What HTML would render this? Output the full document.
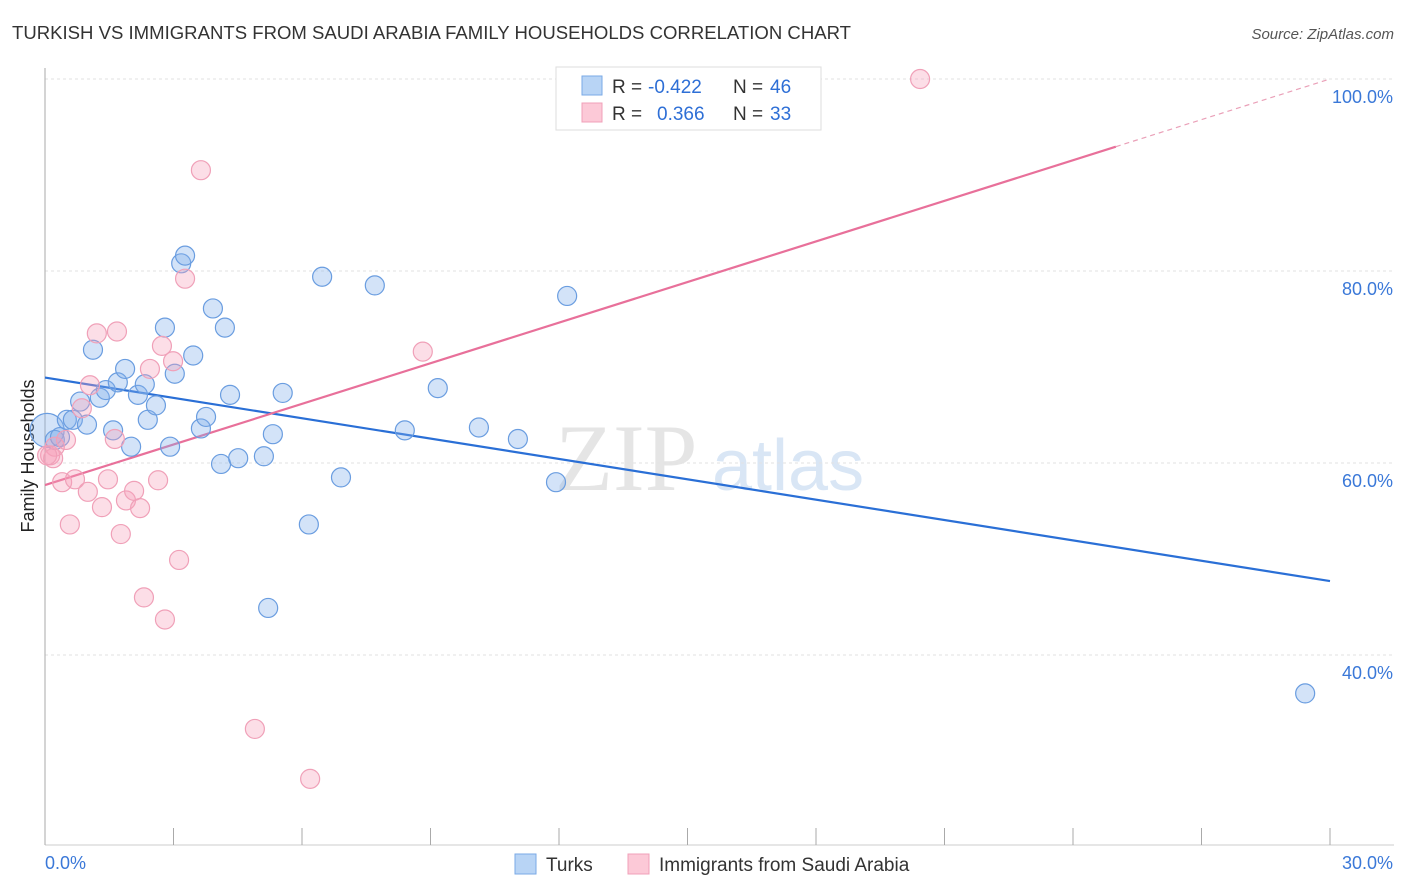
<!DOCTYPE html>
<html><head><meta charset="utf-8"><style>
body{margin:0;background:#fff;font-family:"Liberation Sans",sans-serif;}
</style></head><body>
<svg id="chart" width="1406" height="892" style="display:block">
<text x="12" y="39" font-size="18" fill="#333" textLength="839" lengthAdjust="spacingAndGlyphs">TURKISH VS IMMIGRANTS FROM SAUDI ARABIA FAMILY HOUSEHOLDS CORRELATION CHART</text>
<text x="1394" y="39" font-size="15" fill="#555" font-style="italic" text-anchor="end">Source: ZipAtlas.com</text>
<text x="34" y="456" font-size="18" fill="#222" text-anchor="middle" transform="rotate(-90 34 456)">Family Households</text>
<g><text x="555" y="490" font-size="95" font-family="Liberation Serif" fill="#ddd" opacity="0.75">ZIP</text><text x="712" y="490" font-size="72" fill="#c9dcf2" opacity="0.7">atlas</text></g>
<g id="grid"></g><g id="axes"></g><g id="lines"></g><g id="pts"></g>
<g>
<rect x="556" y="67" width="265" height="63" fill="#fff" stroke="#ddd"/>
<rect x="582" y="76" width="20" height="19" fill="#b8d4f5" stroke="#7aaae6"/>
<rect x="582" y="103" width="20" height="19" fill="#fcc9d7" stroke="#f0a0b8"/>
<text x="612" y="93" font-size="19" fill="#333">R =</text>
<text x="648" y="93" font-size="19" fill="#2e6fd6">-0.422</text>
<text x="733" y="93" font-size="19" fill="#333">N =</text>
<text x="770" y="93" font-size="19" fill="#2e6fd6">46</text>
<text x="612" y="120" font-size="19" fill="#333">R =</text>
<text x="657" y="120" font-size="19" fill="#2e6fd6">0.366</text>
<text x="733" y="120" font-size="19" fill="#333">N =</text>
<text x="770" y="120" font-size="19" fill="#2e6fd6">33</text>
</g>
<g>
<rect x="515" y="854" width="21" height="20" fill="#b8d4f5" stroke="#7aaae6"/>
<text x="546" y="871" font-size="19" fill="#333">Turks</text>
<rect x="628" y="854" width="21" height="20" fill="#fcc9d7" stroke="#f0a0b8"/>
<text x="659" y="871" font-size="19" fill="#333">Immigrants from Saudi Arabia</text>
</g>
</svg>
<script>
const yTicks=[40,60,80,100];
const yTickLabels=["40.0%","60.0%","80.0%","100.0%"];
const xTickVals=[0,3,6,9,12,15,18,21,24,27,30];
const turksX=[0.05,0.23,0.35,0.51,0.65,0.82,0.98,1.12,1.28,1.42,1.59,1.70,1.87,2.01,2.17,2.33,2.40,2.59,2.80,2.92,3.03,3.18,3.27,3.46,3.64,3.76,3.92,4.11,4.20,4.32,4.51,5.11,5.21,5.32,5.55,6.16,6.47,6.91,7.70,8.40,9.17,10.13,11.04,11.93,12.19,29.42];
const turksY=[63.4,62.4,62.7,64.5,64.5,66.4,64.0,71.8,66.8,67.6,63.4,68.4,69.8,61.7,67.1,68.2,64.5,66.0,74.1,61.7,69.3,80.8,81.6,71.2,63.6,64.8,76.1,59.9,74.1,67.1,60.5,60.7,44.9,63.0,67.3,53.6,79.4,58.5,78.5,63.4,67.8,63.7,62.5,58.0,77.4,36.0];
const saudiX=[0.12,0.23,0.40,0.49,0.58,0.70,0.86,1.00,1.05,1.21,1.33,1.47,1.63,1.68,1.77,1.89,2.08,2.22,2.31,2.45,2.64,2.73,2.80,2.99,3.13,3.27,3.64,4.90,6.19,8.82,20.43,0.19,0.05];
const saudiY=[60.8,61.7,58.0,62.4,53.6,58.3,65.7,57.0,68.1,73.5,55.4,58.3,62.5,73.7,52.6,56.1,57.1,55.3,46.0,69.8,58.2,72.2,43.7,70.6,49.9,79.2,90.5,32.3,27.1,71.6,100.0,60.5,60.8];
const turksTrend=[68.9,47.7];
const saudiTrend=[57.7,100.0];
const X=v=>45+v/30*1285, Y=v=>79+(100-v)*9.6;
const NS="http://www.w3.org/2000/svg";
function mk(tag,attrs,parent){const e=document.createElementNS(NS,tag);for(const k in attrs)e.setAttribute(k,attrs[k]);document.getElementById(parent).appendChild(e);return e;}
yTicks.forEach((t,i)=>{
 const g=mk('line',{x1:45,x2:1394,y1:Y(t),y2:Y(t),stroke:'#e2e2e2','stroke-dasharray':'3,3'},'grid');
 
 
 const l=mk('text',{x:1393,y:Y(t)+24,'font-size':18,fill:'#3a78d8','text-anchor':'end'},'grid');
 l.textContent=yTickLabels[i];
 
 
});
const ax=mk('line',{x1:45,x2:45,y1:68,y2:845,stroke:'#aaa'},'axes');


const bx=mk('line',{x1:45,x2:1394,y1:845,y2:845,stroke:'#ccc'},'axes');


xTickVals.forEach(t=>{const k=mk('line',{x1:X(t),x2:X(t),y1:828,y2:845,stroke:'#aaa'},'axes');
 
 });
const xl0=mk('text',{x:45,y:869,'font-size':18,fill:'#3a78d8'},'axes');xl0.textContent=xTickVals[0].toFixed(1)+'%';


const xl1=mk('text',{x:1393,y:869,'font-size':18,fill:'#3a78d8','text-anchor':'end'},'axes');xl1.textContent=xTickVals[xTickVals.length-1].toFixed(1)+'%';


const tl=mk('line',{x1:X(0),y1:Y(turksTrend[0]),x2:X(30),y2:Y(turksTrend[1]),stroke:'#2a6fd6','stroke-width':2.2},'lines');


const fs=(v)=>saudiTrend[0]+(saudiTrend[1]-saudiTrend[0])*v/30;
const sl=mk('line',{x1:X(0),y1:Y(fs(0)),x2:X(25),y2:Y(fs(25)),stroke:'#e8709a','stroke-width':2.2},'lines');


const sd=mk('line',{x1:X(25),y1:Y(fs(25)),x2:X(30),y2:Y(fs(30)),stroke:'#eaa0b8','stroke-width':1.2,'stroke-dasharray':'5,4'},'lines');


turksX.forEach((x,i)=>{const c=mk('circle',{cx:X(x),cy:Y(turksY[i]),r:i===0?17:9.5,fill:'rgba(130,175,235,0.35)',stroke:'#6a9de0','stroke-width':1.2},'pts');
 
 });
saudiX.forEach((x,i)=>{const c=mk('circle',{cx:X(x),cy:Y(saudiY[i]),r:9.5,fill:'rgba(245,160,185,0.35)',stroke:'#f0a0b8','stroke-width':1.2},'pts');
 
 });
</script>
</body></html>
